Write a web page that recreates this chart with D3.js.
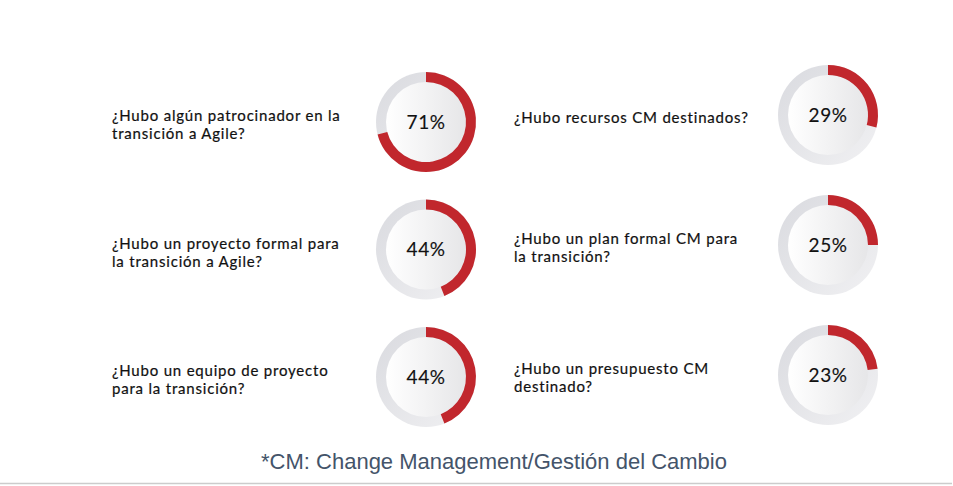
<!DOCTYPE html>
<html>
<head>
<meta charset="utf-8">
<script src="https://cdn.jsdelivr.net/npm/d3@7"></script>
<style>
  html, body { margin: 0; padding: 0; background: #ffffff; }
  svg { display: block; }
</style>
</head>
<body>
<div id="chart"></div>
<script>
// Survey answers, one donut per question.
var questions = [
    ["¿Hubo algún patrocinador en la", "transición a Agile?"],
    ["¿Hubo un proyecto formal para", "la transición a Agile?"],
    ["¿Hubo un equipo de proyecto", "para la transición?"],
    ["¿Hubo recursos CM destinados?"],
    ["¿Hubo un plan formal CM para", "la transición?"],
    ["¿Hubo un presupuesto CM", "destinado?"]
];
var values = [71, 44, 44, 29, 25, 23];
var columns = [0, 0, 0, 1, 1, 1];
var rows = [0, 1, 2, 0, 1, 2];
var footnote = "*CM: Change Management/Gestión del Cambio";

var W = 953, H = 486;
var OUTER = 50, INNER = 40;

var svg = d3.select("#chart")
    .append("svg")
    .attr("width", W)
    .attr("height", H);

var defs = svg.append("defs");

// track ring: darker on the upper left, lighter bottom right
var trackGrad = defs.append("linearGradient")
    .attr("id", "trackGrad")
    .attr("x1", "0").attr("y1", "0").attr("x2", "1").attr("y2", "1");
trackGrad.append("stop").attr("offset", "0%").attr("stop-color", "#d9dadf");
trackGrad.append("stop").attr("offset", "100%").attr("stop-color", "#f1f1f3");

// inner disc: white on the left, soft grey on the right
var discGrad = defs.append("linearGradient")
    .attr("id", "discGrad")
    .attr("x1", "0").attr("y1", "0").attr("x2", "1").attr("y2", "0");
discGrad.append("stop").attr("offset", "0%").attr("stop-color", "#ffffff");
discGrad.append("stop").attr("offset", "100%").attr("stop-color", "#e6e6e8");

var x = d3.scalePoint().domain([0, 1]).range([426, 828]);
// the two columns sit at slightly different heights
var yCol = [
    d3.scalePoint().domain([0, 1, 2]).range([122, 377]),
    d3.scalePoint().domain([0, 1, 2]).range([115, 375])
];
var angle = d3.scaleLinear().domain([0, 100]).range([0, 2 * Math.PI]);

var arc = d3.arc()
    .innerRadius(INNER)
    .outerRadius(OUTER)
    .startAngle(0);

var items = values.map(function(v, i){
    return {value: v, lines: questions[i], col: columns[i], row: rows[i]};
});

var g = svg.selectAll("g.item")
    .data(items)
    .enter()
    .append("g")
    .attr("class", "item")
    .attr("transform", function(d){ return "translate(" + x(d.col) + "," + yCol[d.col](d.row) + ")"; });

g.append("circle")
    .attr("r", OUTER)
    .attr("fill", "url(#trackGrad)");

g.append("circle")
    .attr("r", INNER)
    .attr("fill", "url(#discGrad)");

g.append("path")
    .attr("d", function(d){ return arc({endAngle: angle(d.value)}); })
    .attr("fill", "#c1272d");

g.append("text")
    .attr("text-anchor", "middle")
    .attr("dy", "0.36em")
    .style("font-family", "Lato, 'Open Sans', sans-serif")
    .style("font-size", "19px")
    .style("letter-spacing", "0.5px")
    .style("fill", "#111111")
    .style("stroke", "#111111")
    .style("stroke-width", "0.15px")
    .text(function(d){ return d.value + "%"; });

// question labels to the left of each donut
var LINE = 18;
var labels = g.append("text")
    .attr("x", -314)
    .attr("y", function(d){ return 3 - (d.lines.length - 1) * LINE / 2; })
    .style("font-family", "Lato, 'Open Sans', sans-serif")
    .style("font-size", "15px")
    .style("letter-spacing", "0.8px")
    .style("fill", "#111111")
    .style("stroke", "#111111")
    .style("stroke-width", "0.2px");

labels.selectAll("tspan")
    .data(function(d){ return d.lines; })
    .enter()
    .append("tspan")
    .attr("x", -314)
    .attr("dy", function(d, i){ return i == 0 ? "0.35em" : LINE; })
    .text(function(d){ return d; });

svg.append("text")
    .attr("x", 494)
    .attr("y", 461)
    .attr("dy", "0.35em")
    .attr("text-anchor", "middle")
    .style("font-family", "'Liberation Sans', Arial, sans-serif")
    .style("font-size", "22px")
    .style("fill", "#44546a")
    .text(footnote);

svg.append("line")
    .attr("x1", 0).attr("x2", 952)
    .attr("y1", 483.5).attr("y2", 483.5)
    .attr("stroke", "#cccccc")
    .attr("stroke-width", 1.5);
</script>
</body>
</html>
